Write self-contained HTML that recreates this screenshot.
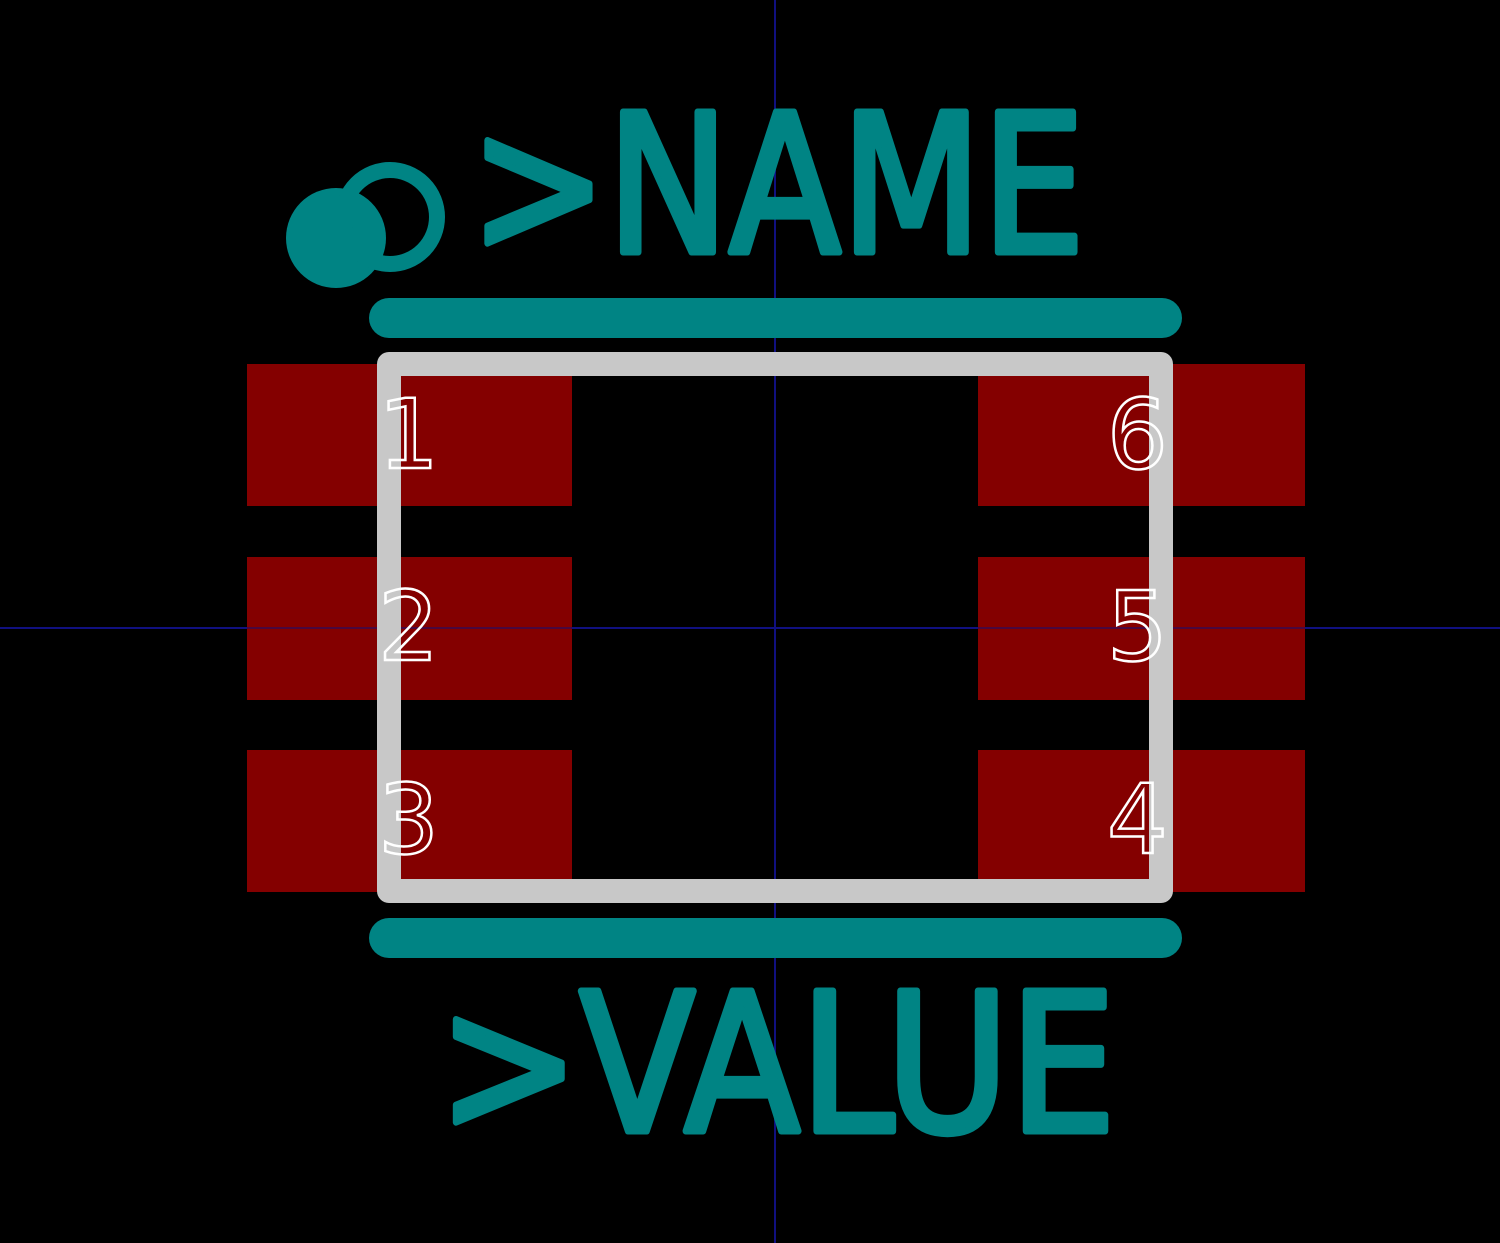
<!DOCTYPE html>
<html><head><meta charset="utf-8"><style>
html,body{margin:0;padding:0;background:#000;}
svg{display:block}
</style></head><body>
<svg width="1500" height="1243" viewBox="0 0 1500 1243" xmlns="http://www.w3.org/2000/svg">
<rect x="0" y="0" width="1500" height="1243" fill="#000"/>
<line x1="775" y1="0" x2="775" y2="1243" stroke="#101080" stroke-width="2"/>
<line x1="0" y1="628" x2="1500" y2="628" stroke="#101080" stroke-width="2"/>
<g fill="#840000">
<rect x="247" y="364" width="325" height="142"/>
<rect x="247" y="557" width="325" height="143"/>
<rect x="247" y="750" width="325" height="142"/>
<rect x="978" y="364" width="327" height="142"/>
<rect x="978" y="557" width="327" height="143"/>
<rect x="978" y="750" width="327" height="142"/>
</g>
<line x1="775" y1="0" x2="775" y2="1243" stroke="#101080" stroke-width="2" opacity="0.5"/>
<line x1="0" y1="628" x2="1500" y2="628" stroke="#101080" stroke-width="2" opacity="0.5"/>
<rect x="389" y="364" width="772" height="527" fill="none" stroke="#c8c8c8" stroke-width="24" stroke-linejoin="round"/>
<g stroke="#008484" stroke-linecap="round" stroke-width="40">
<line x1="389" y1="318" x2="1162" y2="318"/>
<line x1="389" y1="938" x2="1162" y2="938"/>
</g>
<circle cx="336" cy="238" r="50" fill="#008484"/>
<circle cx="390" cy="217" r="47" fill="none" stroke="#008484" stroke-width="16"/>
<text x="470" y="252" font-family="'DejaVu Sans', sans-serif" font-size="192" fill="#008484" stroke="#008484" stroke-width="7" stroke-linejoin="round" textLength="615" lengthAdjust="spacingAndGlyphs">&gt;NAME</text>
<text x="438" y="1131" font-family="'DejaVu Sans', sans-serif" font-size="192" fill="#008484" stroke="#008484" stroke-width="7" stroke-linejoin="round" textLength="678" lengthAdjust="spacingAndGlyphs">&gt;VALUE</text>
<g font-family="'DejaVu Sans', sans-serif" font-size="96" fill="none" stroke="#fff" stroke-width="2.5">
<text x="378" y="468">1</text>
<text x="378" y="660">2</text>
<text x="378" y="853">3</text>
<text x="1168" y="468" text-anchor="end">6</text>
<text x="1168" y="660" text-anchor="end">5</text>
<text x="1168" y="853" text-anchor="end">4</text>
</g>
</svg>
</body></html>
